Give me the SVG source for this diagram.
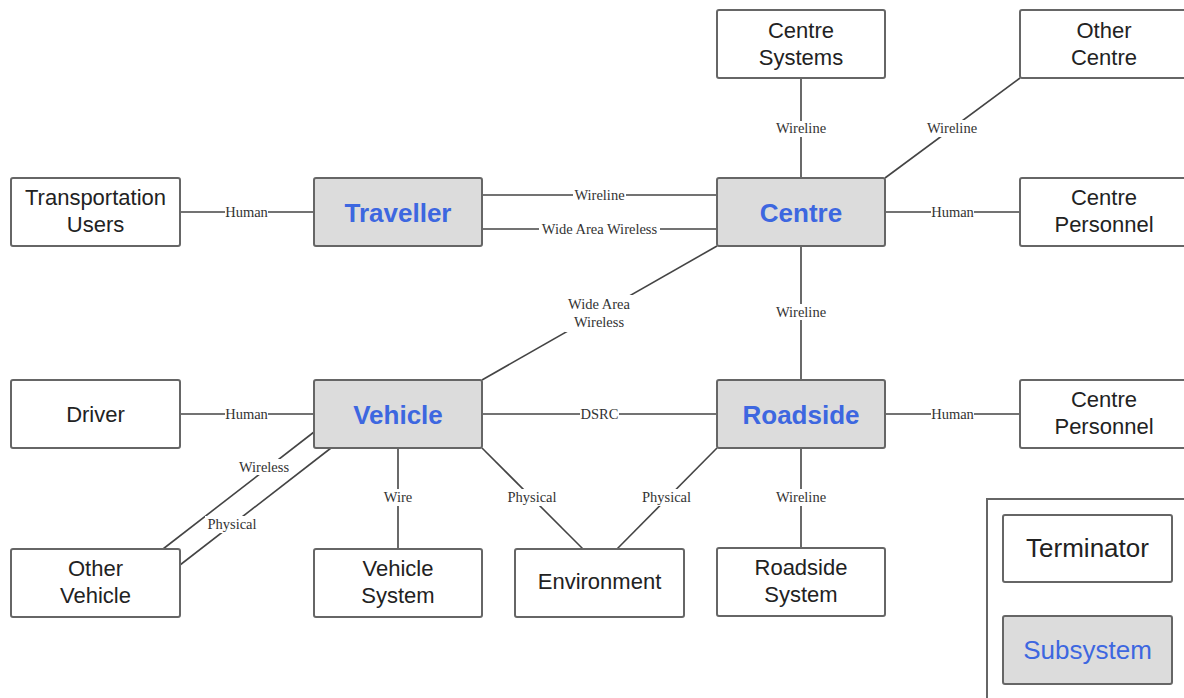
<svg xmlns="http://www.w3.org/2000/svg" width="1184" height="698" viewBox="0 0 1184 698">
<style>
  .term rect { fill: #ffffff; stroke: #666666; stroke-width: 2; }
  .sub rect { fill: #dcdcdc; stroke: #666666; stroke-width: 2; }
  .tt { font-family: "Liberation Sans", Arial, sans-serif; font-size: 22px; fill: #222222; text-anchor: middle; }
  .lt { font-family: "Liberation Sans", Arial, sans-serif; font-size: 26px; fill: #222222; text-anchor: middle; }
  .st { font-family: "Liberation Sans", Arial, sans-serif; font-size: 26px; font-weight: bold; fill: #3d67e0; text-anchor: middle; }
  .conn line { stroke: #444444; stroke-width: 1.6; }
  .lbg { fill: #ffffff; }
  .lbl { font-family: "Liberation Serif", "Times New Roman", serif; font-size: 14.5px; fill: #333333; text-anchor: middle; }
</style>
<rect width="1184" height="698" fill="#ffffff"/>

<g id="connectors" class="conn">
  <line x1="180" y1="212" x2="314" y2="212"/>
  <line x1="482" y1="195" x2="717" y2="195"/>
  <line x1="482" y1="229" x2="717" y2="229"/>
  <line x1="801" y1="78" x2="801" y2="178"/>
  <line x1="885" y1="178" x2="1020" y2="78"/>
  <line x1="885" y1="212" x2="1020" y2="212"/>
  <line x1="717" y1="246" x2="482" y2="380"/>
  <line x1="801" y1="246" x2="801" y2="380"/>
  <line x1="180" y1="414" x2="314" y2="414"/>
  <line x1="482" y1="414" x2="717" y2="414"/>
  <line x1="885" y1="414" x2="1020" y2="414"/>
  <line x1="314" y1="432" x2="163" y2="549"/>
  <line x1="331" y1="448" x2="180" y2="565"/>
  <line x1="398" y1="448" x2="398" y2="549"/>
  <line x1="482" y1="448" x2="583" y2="549"/>
  <line x1="717" y1="448" x2="617" y2="549"/>
  <line x1="801" y1="448" x2="801" y2="548"/>

  <g id="labels">
    <rect class="lbg" x="225" y="205" width="43" height="14"/>
    <text class="lbl" x="246.5" y="217">Human</text>
    <rect class="lbg" x="573" y="188" width="53" height="14"/>
    <text class="lbl" x="599.5" y="200">Wireline</text>
    <rect class="lbg" x="539" y="222" width="121" height="14"/>
    <text class="lbl" x="599.5" y="234">Wide Area Wireless</text>
    <rect class="lbg" x="774" y="121" width="54" height="16"/>
    <text class="lbl" x="801" y="133">Wireline</text>
    <rect class="lbg" x="925" y="120" width="54" height="17"/>
    <text class="lbl" x="952" y="133">Wireline</text>
    <rect class="lbg" x="931" y="205" width="43" height="14"/>
    <text class="lbl" x="952.5" y="217">Human</text>
    <rect class="lbg" x="565" y="295" width="68" height="37"/>
    <text class="lbl" x="599" y="309">Wide Area</text>
    <text class="lbl" x="599" y="327">Wireless</text>
    <rect class="lbg" x="774" y="304" width="54" height="16"/>
    <text class="lbl" x="801" y="317">Wireline</text>
    <rect class="lbg" x="225" y="407" width="43" height="14"/>
    <text class="lbl" x="246.5" y="419">Human</text>
    <rect class="lbg" x="580" y="407" width="39" height="14"/>
    <text class="lbl" x="599.5" y="419">DSRC</text>
    <rect class="lbg" x="931" y="407" width="43" height="14"/>
    <text class="lbl" x="952.5" y="419">Human</text>
    <rect class="lbg" x="237" y="459" width="55" height="16"/>
    <text class="lbl" x="264" y="472">Wireless</text>
    <rect class="lbg" x="205" y="516" width="55" height="17"/>
    <text class="lbl" x="232" y="529">Physical</text>
    <rect class="lbg" x="381" y="489" width="34" height="17"/>
    <text class="lbl" x="398" y="502">Wire</text>
    <rect class="lbg" x="505" y="489" width="55" height="17"/>
    <text class="lbl" x="532" y="502">Physical</text>
    <rect class="lbg" x="639" y="489" width="55" height="17"/>
    <text class="lbl" x="666.5" y="502">Physical</text>
    <rect class="lbg" x="774" y="489" width="54" height="17"/>
    <text class="lbl" x="801" y="502">Wireline</text>
  </g>
</g>

<g id="centre-systems" class="term">
  <rect x="717" y="10" width="168" height="68" rx="2"/>
  <text class="tt" x="801" y="38">Centre</text>
  <text class="tt" x="801" y="65">Systems</text>
</g>
<g id="other-centre" class="term">
  <rect x="1020" y="10" width="168" height="68" rx="2"/>
  <text class="tt" x="1104" y="38">Other</text>
  <text class="tt" x="1104" y="65">Centre</text>
</g>
<g id="transportation-users" class="term">
  <rect x="11" y="178" width="169" height="68" rx="2"/>
  <text class="tt" x="95.5" y="205">Transportation</text>
  <text class="tt" x="95.5" y="232">Users</text>
</g>
<g id="traveller" class="sub">
  <rect x="314" y="178" width="168" height="68" rx="2"/>
  <text class="st" x="398" y="221.5">Traveller</text>
</g>
<g id="centre" class="sub">
  <rect x="717" y="178" width="168" height="68" rx="2"/>
  <text class="st" x="801" y="221.5">Centre</text>
</g>
<g id="centre-personnel-1" class="term">
  <rect x="1020" y="178" width="168" height="68" rx="2"/>
  <text class="tt" x="1104" y="205">Centre</text>
  <text class="tt" x="1104" y="232">Personnel</text>
</g>
<g id="driver" class="term">
  <rect x="11" y="380" width="169" height="68" rx="2"/>
  <text class="tt" x="95.5" y="422">Driver</text>
</g>
<g id="vehicle" class="sub">
  <rect x="314" y="380" width="168" height="68" rx="2"/>
  <text class="st" x="398" y="423.5">Vehicle</text>
</g>
<g id="roadside" class="sub">
  <rect x="717" y="380" width="168" height="68" rx="2"/>
  <text class="st" x="801" y="423.5">Roadside</text>
</g>
<g id="centre-personnel-2" class="term">
  <rect x="1020" y="380" width="168" height="68" rx="2"/>
  <text class="tt" x="1104" y="407">Centre</text>
  <text class="tt" x="1104" y="434">Personnel</text>
</g>
<g id="other-vehicle" class="term">
  <rect x="11" y="549" width="169" height="68" rx="2"/>
  <text class="tt" x="95.5" y="576">Other</text>
  <text class="tt" x="95.5" y="603">Vehicle</text>
</g>
<g id="vehicle-system" class="term">
  <rect x="314" y="549" width="168" height="68" rx="2"/>
  <text class="tt" x="398" y="576">Vehicle</text>
  <text class="tt" x="398" y="603">System</text>
</g>
<g id="environment" class="term">
  <rect x="515" y="549" width="169" height="68" rx="2"/>
  <text class="tt" x="599.5" y="589">Environment</text>
</g>
<g id="roadside-system" class="term">
  <rect x="717" y="548" width="168" height="68" rx="2"/>
  <text class="tt" x="801" y="575">Roadside</text>
  <text class="tt" x="801" y="602">System</text>
</g>

<g id="legend">
  <rect x="987" y="499" width="210" height="210" fill="#ffffff" stroke="#666666" stroke-width="2"/>
  <g id="legend-terminator" class="term">
    <rect x="1003" y="515" width="169" height="67" rx="2"/>
    <text class="lt" x="1087.5" y="557">Terminator</text>
  </g>
  <g id="legend-subsystem" class="sub">
    <rect x="1003" y="616" width="169" height="68" rx="2"/>
    <text class="lt" x="1087.5" y="659" style="fill:#3d67e0">Subsystem</text>
  </g>
</g>
</svg>
